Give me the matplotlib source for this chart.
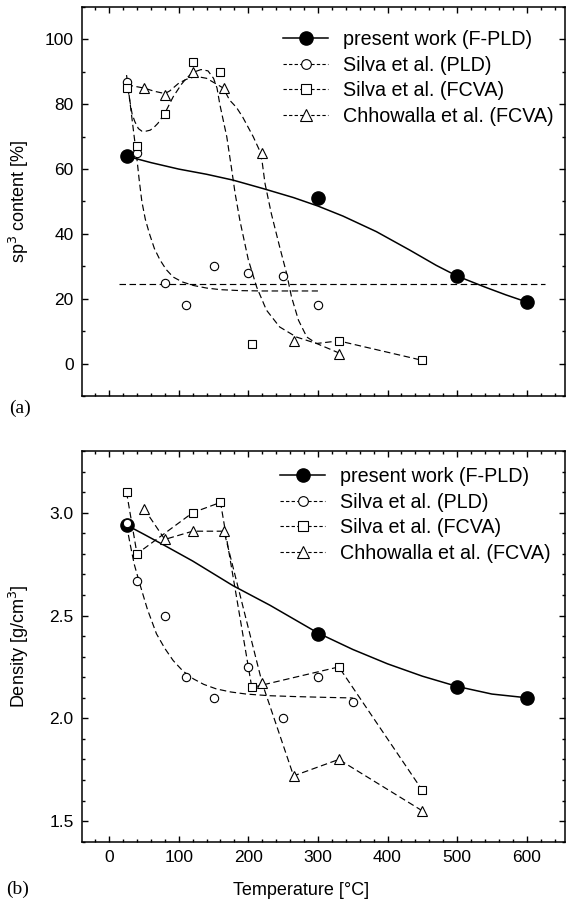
import matplotlib
matplotlib.use("Agg")
import matplotlib.pyplot as plt
from matplotlib.lines import Line2D
from matplotlib.ticker import MultipleLocator

plt.rcParams['font.family'] = ['Liberation Sans', 'DejaVu Sans']

# ---- measured points (a) sp3 content ----
temp_pw = [25, 300, 500, 600]
sp3_pw = [64, 51, 27, 19]
dens_pw = [2.94, 2.41, 2.15, 2.10]

temp_pld = [25, 40, 80, 110, 150, 200, 250, 300]
sp3_pld = [87, 65, 25, 18, 30, 28, 27, 18]

temp_fcva = [25, 40, 80, 120, 160, 205, 330, 450]
sp3_fcva = [85, 67, 77, 93, 90, 6, 7, 1]

temp_chh = [50, 80, 120, 165, 220, 265, 330]
sp3_chh = [85, 83, 90, 85, 65, 7, 3]

# ---- measured points (b) density ----
temp_pld_b = [25, 40, 80, 110, 150, 200, 250, 300, 350]
dens_pld = [2.95, 2.67, 2.50, 2.20, 2.10, 2.25, 2.00, 2.20, 2.08]

temp_fcva_b = [25, 40, 120, 160, 205, 330, 450]
dens_fcva = [3.10, 2.80, 3.00, 3.05, 2.15, 2.25, 1.65]

temp_chh_b = [50, 80, 120, 165, 220, 265, 330, 450]
dens_chh = [3.02, 2.87, 2.91, 2.91, 2.17, 1.72, 1.80, 1.55]

# ---- guide curves ----
fit_pw_t = [25, 60, 100, 140, 178, 221, 265, 300, 336, 384, 432, 470, 500, 540, 570, 600]
fit_pw_sp3 = [64, 62, 60, 58.4, 56.6, 54, 51.2, 48.6, 45.5, 40.7, 35, 30.3, 27, 23.6, 21.2, 19]

fit_pld_t = [25, 28, 32, 36, 40, 43, 47, 52, 58, 65, 73, 82, 92, 105, 121, 140, 160, 190, 220, 300]
fit_pld_sp3 = [89, 84, 77, 70, 63, 57, 50, 44.5, 40, 35.5, 32, 29, 26.7, 25.2, 24.1, 23.3,
               22.8, 22.5, 22.4, 22.4]

fit_fcva_t = [25, 29, 33, 37, 42, 47, 53, 59, 65, 70, 80, 92, 104, 111, 120, 132, 142, 150,
              155, 159, 164, 169, 176, 181, 188, 200, 212, 226, 245, 269, 298, 330, 450]
fit_fcva_sp3 = [88, 82, 77, 74.6, 72.5, 71.7, 71.7, 72, 73, 74.1, 77.2, 82.3, 86.2, 88, 89.8,
                90.7, 90.3, 88, 85, 80, 75, 70, 60, 52.5, 44, 32, 23.6, 16.5, 11.3, 8.2, 6.2, 7, 1]

fit_chh_t = [25, 50, 65, 80, 87, 100, 111, 125, 140, 152, 164, 173, 183, 192, 207, 216, 220,
             224, 233, 245, 255, 262, 272, 284, 298, 330]
fit_chh_sp3 = [86, 85, 84, 83.3, 84.1, 86.5, 87.7, 88.6, 88, 86.5, 85, 81.3, 79, 76, 70, 65.8,
               62, 55.5, 46.3, 36, 27.8, 20.6, 13.4, 8.2, 6.2, 3.3]

flat_t = [14, 626]
flat_sp3 = [24.4, 24.4]

fit_pw_b_t = [25, 50, 80, 120, 178, 231, 300, 350, 400, 450, 500, 550, 600]
fit_pw_dens = [2.94, 2.895, 2.84, 2.765, 2.645, 2.55, 2.415, 2.335, 2.265, 2.205, 2.155, 2.118, 2.10]

fit_pld_b_t = [25, 30, 36, 44, 55, 68, 80, 92, 106, 121, 136, 154, 175, 197, 230, 265, 310, 350]
fit_pld_dens = [2.94, 2.85, 2.75, 2.654, 2.53, 2.411, 2.34, 2.281, 2.23, 2.192, 2.165, 2.143,
                2.128, 2.118, 2.11, 2.106, 2.102, 2.099]

labels = ['present work (F-PLD)', 'Silva et al. (PLD)', 'Silva et al. (FCVA)',
          'Chhowalla et al. (FCVA)']

W, H = 566, 905
fig = plt.figure(figsize=(W / 100, H / 100), dpi=100)
ax1 = fig.add_axes([82 / W, 1 - 396 / H, (565 - 82) / W, (396 - 7) / H])
ax2 = fig.add_axes([82 / W, 1 - 841.7 / H, (565 - 82) / W, (841.7 - 451) / H])

dash = (0, (5.5, 3))
lkw = dict(color='black', lw=0.85, ls=dash)
open_kw = dict(ls='none', mfc='white', mec='black', mew=0.8, zorder=5)

# top panel
ax1.plot(fit_pw_t, fit_pw_sp3, color='black', lw=1.1, zorder=3)
ax1.plot(fit_pld_t, fit_pld_sp3, **lkw)
ax1.plot(fit_fcva_t, fit_fcva_sp3, **lkw)
ax1.plot(fit_chh_t, fit_chh_sp3, **lkw)
ax1.plot(flat_t, flat_sp3, **lkw)
ax1.plot(temp_pw, sp3_pw, ls='none', marker='o', ms=9.5, color='black', zorder=4)
ax1.plot(temp_pld, sp3_pld, marker='o', ms=6, **open_kw)
ax1.plot(temp_fcva, sp3_fcva, marker='s', ms=5.5, **open_kw)
ax1.plot(temp_chh, sp3_chh, marker='^', ms=7, **open_kw)

# bottom panel
ax2.plot(fit_pw_b_t, fit_pw_dens, color='black', lw=1.1, zorder=3)
ax2.plot(fit_pld_b_t, fit_pld_dens, **lkw)
ax2.plot(temp_fcva_b, dens_fcva, **lkw)
ax2.plot(temp_chh_b, dens_chh, **lkw)
ax2.plot(temp_pw, dens_pw, ls='none', marker='o', ms=9.5, color='black', zorder=4)
ax2.plot(temp_pld_b, dens_pld, marker='o', ms=6, **open_kw)
ax2.plot(temp_fcva_b, dens_fcva, marker='s', ms=5.5, **open_kw)
ax2.plot(temp_chh_b, dens_chh, marker='^', ms=7, **open_kw)

handles = [
    Line2D([], [], color='black', lw=1.1, marker='o', ms=9.5),
    Line2D([], [], color='black', lw=0.8, ls=(0, (3, 2)), marker='o', ms=7, mfc='white', mew=0.8),
    Line2D([], [], color='black', lw=0.8, ls=(0, (3, 2)), marker='s', ms=6.5, mfc='white', mew=0.8),
    Line2D([], [], color='black', lw=0.8, ls=(0, (3, 2)), marker='^', ms=8, mfc='white', mew=0.8),
]

for ax, lx, ly in [(ax1, (283 - 82) / 483, 0.94), (ax2, (280 - 82) / 483, 0.959)]:
    ax.set_xlim(-39, 655)
    ax.xaxis.set_major_locator(MultipleLocator(100))
    ax.xaxis.set_minor_locator(MultipleLocator(20))
    ax.tick_params(which='both', direction='in', top=True, right=True, labelsize=12.5, pad=6,
                   width=1.0)
    ax.tick_params(which='major', length=4.5)
    ax.tick_params(which='minor', length=2.5)
    for s in ax.spines.values():
        s.set_linewidth(1.1)
    ax.legend(handles, labels, loc='upper left', bbox_to_anchor=(lx, ly), frameon=False,
              fontsize=14.2, handlelength=2.3, handletextpad=0.75, labelspacing=0.33,
              borderpad=0, borderaxespad=0)

ax1.set_ylim(-10, 110)
ax1.yaxis.set_major_locator(MultipleLocator(20))
ax1.yaxis.set_minor_locator(MultipleLocator(10))
ax1.tick_params(labelbottom=False)
ax1.set_ylabel('sp$^3$ content [%]', fontsize=13)
ax1.yaxis.set_label_coords(-0.105, 0.5)

ax2.set_ylim(1.4, 3.3)
ax2.yaxis.set_major_locator(MultipleLocator(0.5))
ax2.yaxis.set_minor_locator(MultipleLocator(0.1))
ax2.set_ylabel('Density [g/cm$^3$]', fontsize=13)
ax2.yaxis.set_label_coords(-0.105, 0.5)
ax2.set_xlabel('Temperature [°C]', fontsize=13)
ax2.xaxis.set_label_coords((301 - 82) / 483, -0.103)

fig.text(20.5 / W, 1 - 408 / H, '(a)', family='Liberation Serif', fontsize=14,
         ha='center', va='center')
fig.text(17.5 / W, 1 - 889 / H, '(b)', family='Liberation Serif', fontsize=14,
         ha='center', va='center')

fig.savefig('out.png', dpi=100)
